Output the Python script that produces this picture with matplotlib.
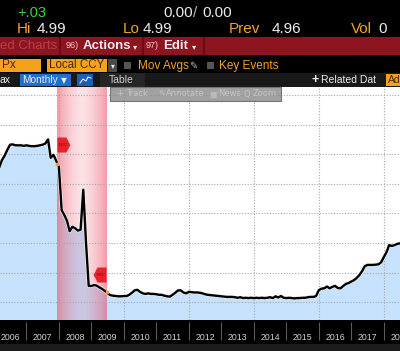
import numpy as np
import pandas as pd
import matplotlib
matplotlib.use("Agg")
import matplotlib.pyplot as plt
import matplotlib.dates as mdates
import matplotlib.patheffects as pe
from matplotlib.patches import Rectangle, Polygon
from matplotlib.lines import Line2D
from matplotlib.transforms import Affine2D

# monthly series, Feb 2006 .. Jul 2018
start_month = "2006-02-01"
rate_values = [
    7.45, 7.55, 7.80, 7.95, 8.15, 8.32, 8.33, 8.30, 8.30, 8.30, 8.28,
    8.30, 8.28, 8.27, 8.27, 8.28, 8.30, 8.32, 8.36, 8.50, 7.88, 7.98, 7.78,
    7.57, 6.11, 5.95, 5.75, 5.40, 5.55, 5.50, 5.42, 5.45, 6.80, 5.00, 3.55,
    3.55, 3.58, 3.56, 3.50, 3.45, 3.38, 3.30, 3.24, 3.22, 3.21, 3.20, 3.20,
    3.21, 3.21, 3.25, 3.32, 3.40, 3.42, 3.35, 3.30, 3.28, 3.30, 3.28, 3.28,
    3.27, 3.25, 3.25, 3.22, 3.20, 3.19, 3.25, 3.32, 3.40, 3.40, 3.33, 3.30,
    3.35, 3.34, 3.33, 3.33, 3.32, 3.30, 3.27, 3.25, 3.24, 3.23, 3.22, 3.21,
    3.20, 3.19, 3.18, 3.18, 3.18, 3.17, 3.15, 3.17, 3.14, 3.15, 3.14, 3.15,
    3.14, 3.15, 3.14, 3.15, 3.14, 3.15, 3.17, 3.14, 3.20, 3.16, 3.21, 3.15,
    3.14, 3.15, 3.14, 3.13, 3.14, 3.14, 3.15, 3.15, 3.17, 3.18, 3.18, 3.21,
    3.41, 3.46, 3.47, 3.53, 3.47, 3.52, 3.55, 3.48, 3.47, 3.55, 3.62, 3.65,
    3.70, 3.75, 3.82, 3.92, 4.05, 4.22, 4.26, 4.26, 4.26, 4.27, 4.28, 4.35,
    4.53, 4.70, 4.93, 4.90, 4.93, 4.97, 4.99,
]
recession = ("2007-12-15", "2009-06-20")
year_labels = list(range(2006, 2019))
grid_years = [2008, 2010, 2012, 2014, 2016, 2018]
grid_levels = [3, 4, 5, 6, 7, 8, 9, 10]

dates = pd.date_range(start_month, periods=len(rate_values), freq="MS")
values = np.array(rate_values)

W, H = 400, 351
fig = plt.figure(figsize=(W / 100, H / 100), dpi=100, facecolor="black")
plt.rcParams["font.family"] = ["Liberation Sans", "DejaVu Sans"]

AMBER = "#f3a428"
WHITE = "#ececec"


def fx(x):
    return x / W


def fy(y):
    return 1 - y / H


def box(x0, y0, x1, y1, color, **kw):
    fig.add_artist(Rectangle((fx(x0), fy(y1)), (x1 - x0) / W, (y1 - y0) / H,
                             transform=fig.transFigure, facecolor=color,
                             edgecolor=kw.pop("edgecolor", "none"), **kw))


def label(x, y, s, color=WHITE, size=9, ha="left", **kw):
    fig.text(fx(x), fy(y), s, color=color, fontsize=size, ha=ha, va="center", **kw)


# header rows
label(17, 13, "+.03", color="#3fcf3f", size=10.5)
label(163, 13, "0.00", size=11)
label(193, 13, "/", size=11, color="#bbbbbb")
label(202, 13, "0.00", size=11)
label(17, 29, "Hi", color=AMBER, size=11)
label(37, 29, "4.99", size=11)
label(123, 29, "Lo", color=AMBER, size=11)
label(143, 29, "4.99", size=11)
label(229, 29, "Prev", color=AMBER, size=11)
label(272, 29, "4.96", size=11)
label(351, 29, "Vol", color=AMBER, size=11)
label(378, 29, "0", size=11)

# red action bar
box(0, 37, 400, 55, "#8e1420")
for sx in [60, 143, 204]:
    box(sx - 1, 37, sx + 1, 55, "#6a0c16")
label(0, 46, "ed Charts", color="#b8404c", size=9.5)
label(66, 46, "96)", color="#f0c8cc", size=6.5)
label(83, 46, "Actions", size=9.5, fontweight="bold")
label(133, 47, "\u25be", size=6, family="DejaVu Sans")
label(146, 46, "97)", color="#f0c8cc", size=6.5)
label(163, 46, "Edit", size=9.5, fontweight="bold")
label(192, 47, "\u25be", size=6, family="DejaVu Sans")

# orange option row
box(0, 59, 41, 72, "#f5a21b")
label(2, 65.5, "Px", color="#4a2600", size=8.5)
box(47, 59, 107, 72, "#f5a21b")
label(49, 65.5, "Local CCY", color="#4a2600", size=8.3)
box(108, 59, 117, 72, "#4a4a4a")
label(112.5, 66, "\u25be", size=5.5, ha="center", family="DejaVu Sans")
box(124, 62, 131, 69, "#555555")
label(138, 65.5, "Mov Avgs", color=AMBER, size=8.5)
label(189, 65.5, "\u270e", color="#bbbbbb", size=7, family="DejaVu Sans")
box(207, 62, 214, 69, "#555555")
label(219, 65.5, "Key Events", color=AMBER, size=8.5)

# tab row
box(0, 73, 400, 87, "#181818")
box(100, 73, 145, 87, "#262626")
label(0, 80, "ax", size=7.5)
box(20, 74, 71, 86, "#1f6fd0")
label(22, 80, "Monthly", size=7.3)
label(61, 80.5, "\u25bc", size=5.5, family="DejaVu Sans")
box(77, 74, 93, 86, "#1d5fb8")
fig.add_artist(Line2D([fx(80), fx(83), fx(86), fx(88), fx(91)],
                      [fy(83), fy(79), fy(81), fy(77), fy(78)],
                      transform=fig.transFigure, color="white", lw=0.7))
label(109, 80, "Table", color="#cfcfcf", size=7.5)
label(312, 80, "+", size=9, fontweight="bold")
label(321, 80, "Related Dat", size=7.5)
box(386, 74, 400, 86, "#f5a21b")
label(388, 80, "Ad", color="#4a2600", size=7.5)

# main chart
ax = fig.add_axes([0, fy(320), 1, (320 - 87) / H])
ax.set_facecolor("white")
ylo, yhi = 2.40, 10.27
x0, x1 = pd.Timestamp("2006-03-10"), pd.Timestamp("2018-07-01")
ax.set_xlim(x0, x1)
ax.set_ylim(ylo, yhi)
for s in ax.spines.values():
    s.set_visible(False)
ax.set_xticks([])
ax.set_yticks([])

ax.fill_between(dates, values, ylo, color="#c6e1fb", lw=0, zorder=1)

# recession band with a soft gradient
r0, r1 = pd.Timestamp(recession[0]), pd.Timestamp(recession[1])
prof = np.abs(np.linspace(-1, 1, 60)) ** 1.6
grad = np.zeros((1, 60, 4))
grad[..., 0], grad[..., 1], grad[..., 2] = 0.92, 0.25, 0.35
grad[..., 3] = 0.16 + 0.36 * prof
ax.imshow(grad, extent=[mdates.date2num(r0), mdates.date2num(r1), ylo, yhi],
          aspect="auto", zorder=2, interpolation="bilinear")

for yv in grid_levels:
    ax.axhline(yv, color="#a8a8a8", lw=0.8, ls=(0, (1, 1.5)), zorder=2.5)
for yr in grid_years:
    ax.axvline(pd.Timestamp(f"{yr}-01-01"), color="#a8a8a8", lw=0.8,
               ls=(0, (1, 1.5)), zorder=2.5)

ax.plot(dates, values, color="black", lw=1.7, zorder=3,
        path_effects=[pe.Stroke(linewidth=2.6, foreground="#f4f4f4"), pe.Normal()])
ax.set_xlim(x0, x1)
ax.set_ylim(ylo, yhi)

# orange markers at recession start/end
dn = mdates.date2num(dates)
for r in (r0, r1):
    rv = np.interp(mdates.date2num(r), dn, values)
    ax.plot([r], [rv], "o", ms=2.8, color="#f2a03a", mec="none", zorder=4)


# REC flags
def rec_flag(when, level, direction):
    px, py = ax.transData.transform((mdates.date2num(when), level))
    d = direction
    verts = [(0, -7.5), (9 * d, -7.5), (13 * d, 0), (9 * d, 7.5), (0, 7.5)]
    fig.add_artist(Polygon(verts, closed=True, facecolor="#e8222c",
                           edgecolor="none",
                           transform=Affine2D().translate(px, py), zorder=5))
    fig.text((px + 5.5 * d) / W, py / H, "REC", color="#8a0008", fontsize=3.2,
             ha="center", va="center", zorder=6)


fig.canvas.draw()
rec_flag(r0, 8.31, 1)
rec_flag(r1, 3.92, -1)

# floating chart toolbar
box(110, 87, 281, 101, "#8a8a8a", alpha=0.8, edgecolor="#5e5e5e", lw=0.8)
for xx, s in [(116, "+"), (126, "Track"), (158, "\u270e"), (166, "Annotate"),
              (209, "\u25a6"), (218, "News"), (244, "Q"), (253, "Zoom")]:
    label(xx, 94, s, color="#c4c4c4", size=6, family=["DejaVu Sans"])

# bottom date bar
bx = fig.add_axes([0, 0, 1, 31 / H])
bx.set_facecolor("black")
bx.set_xlim(x0, x1)
bx.set_ylim(0, 1)
bx.axis("off")
bx.add_patch(Rectangle((0, 0), 1, 7 / 31, transform=bx.transAxes,
                       facecolor="#1c1c1c", edgecolor="none"))
for yr in year_labels:
    bx.vlines(pd.Timestamp(f"{yr}-01-01"), 0.355, 0.935, color="#5a5a5a", lw=0.8)
    bx.text(pd.Timestamp(f"{yr}-07-01"), 0.45, str(yr), color="#d4d4d4",
            fontsize=6.3, ha="center", va="center", clip_on=True)

fig.savefig("out.png", dpi=100, facecolor="black")
